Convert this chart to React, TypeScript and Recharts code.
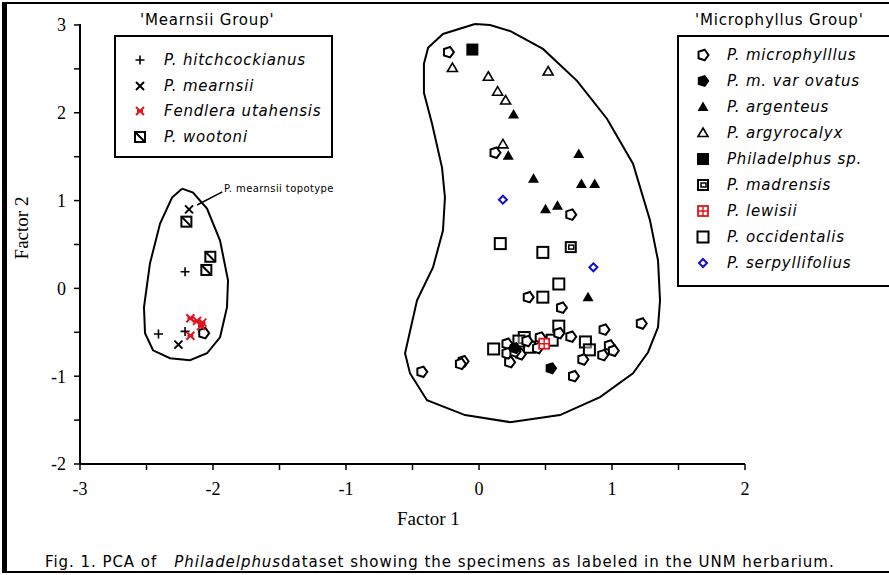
import React from 'react';
import { ScatterChart, Scatter, XAxis, YAxis, ReferenceLine } from 'recharts';

type Pt = [number, number];

const xTicks = [-3, -2.5, -2, -1.5, -1, -0.5, 0, 0.5, 1, 1.5, 2];
const yTicks = [-2, -1.5, -1, -0.5, 0, 0.5, 1, 1.5, 2, 2.5, 3];

// Mearnsii group
const hitchcockianus: Pt[] = [[-2.21, 0.19], [-2.41, -0.52], [-2.21, -0.49], [-2.08, -0.5]];
const mearnsii: Pt[] = [[-2.18, 0.9], [-2.26, -0.64]];
const fendlera: Pt[] = [[-2.17, -0.34], [-2.12, -0.37], [-2.08, -0.39], [-2.09, -0.43], [-2.17, -0.54]];
const wootoni: Pt[] = [[-2.2, 0.76], [-2.02, 0.36], [-2.05, 0.21]];

// Microphyllus group
const microphyllus: Pt[] = [
  [-2.07, -0.51], [-0.23, 2.69], [0.12, 1.545], [0.69, 0.84], [0.37, -0.1], [0.62, -0.22],
  [0.94, -0.47], [1.22, -0.4], [0.69, -0.55], [0.98, -0.65], [1.01, -0.71], [0.93, -0.76],
  [0.78, -0.81], [0.71, -1.0], [-0.12, -0.83], [-0.14, -0.86], [-0.43, -0.95], [0.21, -0.63],
  [0.23, -0.84], [0.21, -0.74], [0.31, -0.75], [0.44, -0.68], [0.46, -0.56], [0.6, -0.51],
  [0.27, -0.72], [0.36, -0.6],
];
const ovatus: Pt[] = [[0.54, -0.91], [0.27, -0.68]];
const argenteus: Pt[] = [
  [0.26, 1.98], [0.22, 1.51], [0.75, 1.53], [0.41, 1.25], [0.77, 1.19], [0.87, 1.19],
  [0.5, 0.9], [0.59, 0.94], [0.82, -0.1],
];
const argyrocalyx: Pt[] = [[-0.2, 2.51], [0.07, 2.41], [0.14, 2.24], [0.2, 2.14], [0.52, 2.47], [0.18, 1.64]];
const philadelphusSp: Pt[] = [[-0.05, 2.72]];
const madrensis: Pt[] = [[0.69, 0.47]];
const lewisii: Pt[] = [[0.49, -0.63]];
const occidentalis: Pt[] = [
  [0.16, 0.51], [0.48, 0.41], [0.6, 0.05], [0.48, -0.1], [0.6, -0.43], [0.11, -0.69],
  [0.8, -0.61], [0.83, -0.7], [0.34, -0.56], [0.3, -0.6], [0.38, -0.67], [0.55, -0.59],
];
const serpyllifolius: Pt[] = [[0.18, 1.01], [0.86, 0.24]];

// group outlines
const mearnsiiOutline: Pt[] = [
  [-2.233, 1.136], [-2.15, 1.091], [-2.045, 0.909], [-1.947, 0.545], [-1.887, 0.091],
  [-1.895, -0.216], [-1.947, -0.557], [-2.045, -0.739], [-2.173, -0.818], [-2.323, -0.795],
  [-2.451, -0.705], [-2.511, -0.511], [-2.519, -0.216], [-2.474, 0.284], [-2.398, 0.739],
  [-2.308, 1.034], [-2.233, 1.136],
];
const microphyllusOutline: Pt[] = [
  [-0.03, 3.011], [0.083, 3.0], [0.233, 2.932], [0.481, 2.727], [0.737, 2.364], [0.962, 1.932],
  [1.158, 1.42], [1.286, 0.773], [1.346, 0.318], [1.361, -0.136], [1.346, -0.443], [1.271, -0.727],
  [1.158, -0.966], [0.91, -1.239], [0.609, -1.443], [0.233, -1.523], [-0.105, -1.443],
  [-0.391, -1.273], [-0.519, -0.966], [-0.556, -0.739], [-0.466, -0.136], [-0.346, 0.239],
  [-0.271, 0.659], [-0.256, 1.034], [-0.278, 1.375], [-0.353, 1.875], [-0.414, 2.227],
  [-0.414, 2.557], [-0.383, 2.739], [-0.271, 2.898], [-0.03, 3.011],
];

const toObj = (a: Pt[]) => a.map(([x, y]) => ({ x, y }));

type Kind =
  | 'plus' | 'cross' | 'redcross' | 'wootoni' | 'pent' | 'pentFill' | 'triFill' | 'triOpen'
  | 'sqFill' | 'madrensis' | 'lewisii' | 'sqOpen' | 'diamond';

const RED = '#e0141c';
const BLUE = '#1010d0';

function pentPts(cx: number, cy: number, r: number) {
  const pts: string[] = [];
  for (let i = 0; i < 5; i++) {
    const a = ((-90 + 18 + 72 * i) * Math.PI) / 180;
    pts.push(`${cx + r * Math.cos(a)},${cy + r * Math.sin(a)}`);
  }
  return pts.join(' ');
}

function Marker({ kind, cx, cy }: { kind: Kind; cx: number; cy: number }) {
  if (cx == null || cy == null || isNaN(cx) || isNaN(cy)) return <g />;
  switch (kind) {
    case 'plus':
      return <path d={`M${cx - 4.5},${cy}H${cx + 4.5}M${cx},${cy - 4.5}V${cy + 4.5}`} stroke="#000" strokeWidth={1.6} />;
    case 'cross':
      return <path d={`M${cx - 4},${cy - 4}L${cx + 4},${cy + 4}M${cx + 4},${cy - 4}L${cx - 4},${cy + 4}`} stroke="#000" strokeWidth={2} />;
    case 'redcross':
      return <path d={`M${cx - 4},${cy - 4}L${cx + 4},${cy + 4}M${cx + 4},${cy - 4}L${cx - 4},${cy + 4}M${cx - 3},${cy}H${cx + 3}`} stroke={RED} strokeWidth={2} />;
    case 'wootoni':
      return (
        <g>
          <rect x={cx - 5} y={cy - 5} width={10} height={10} fill="#fff" stroke="#000" strokeWidth={2} />
          <path d={`M${cx - 5},${cy - 5}L${cx + 5},${cy + 5}`} stroke="#000" strokeWidth={2} />
        </g>
      );
    case 'pent':
      return <polygon points={pentPts(cx, cy, 5.5)} fill="#fff" stroke="#000" strokeWidth={2} />;
    case 'pentFill':
      return <polygon points={pentPts(cx, cy, 5.5)} fill="#000" stroke="#000" strokeWidth={1.5} />;
    case 'triFill':
      return <polygon points={`${cx},${cy - 5.5} ${cx + 5.5},${cy + 4} ${cx - 5.5},${cy + 4}`} fill="#000" />;
    case 'triOpen':
      return <polygon points={`${cx},${cy - 5} ${cx + 5},${cy + 3.5} ${cx - 5},${cy + 3.5}`} fill="#fff" stroke="#000" strokeWidth={1.6} />;
    case 'sqFill':
      return <rect x={cx - 6} y={cy - 6} width={12} height={12} fill="#000" />;
    case 'madrensis':
      return (
        <g>
          <rect x={cx - 5} y={cy - 5} width={10} height={10} fill="#fff" stroke="#000" strokeWidth={2} />
          <rect x={cx - 2} y={cy - 2} width={5} height={4} fill="#fff" stroke="#000" strokeWidth={1.5} />
        </g>
      );
    case 'lewisii':
      return (
        <g>
          <rect x={cx - 5} y={cy - 5} width={10} height={10} fill="#fff" stroke={RED} strokeWidth={1.8} />
          <path d={`M${cx - 5},${cy}H${cx + 5}M${cx},${cy - 5}V${cy + 5}`} stroke={RED} strokeWidth={1.4} />
        </g>
      );
    case 'sqOpen':
      return <rect x={cx - 5.5} y={cy - 5.5} width={11} height={11} fill="#fff" fillOpacity={0.4} stroke="#000" strokeWidth={2} />;
    case 'diamond':
      return <polygon points={`${cx},${cy - 4} ${cx + 4},${cy} ${cx},${cy + 4} ${cx - 4},${cy}`} fill="#fff" stroke={BLUE} strokeWidth={2} />;
  }
  return <g />;
}

const series: { name: string; kind: Kind; data: Pt[] }[] = [
  { name: 'P. hitchcockianus', kind: 'plus', data: hitchcockianus },
  { name: 'P. mearnsii', kind: 'cross', data: mearnsii },
  { name: 'P. wootoni', kind: 'wootoni', data: wootoni },
  { name: 'P. occidentalis', kind: 'sqOpen', data: occidentalis },
  { name: 'P. microphylllus', kind: 'pent', data: microphyllus },
  { name: 'P. m. var ovatus', kind: 'pentFill', data: ovatus },
  { name: 'P. argenteus', kind: 'triFill', data: argenteus },
  { name: 'P. argyrocalyx', kind: 'triOpen', data: argyrocalyx },
  { name: 'Philadelphus sp.', kind: 'sqFill', data: philadelphusSp },
  { name: 'P. madrensis', kind: 'madrensis', data: madrensis },
  { name: 'P. lewisii', kind: 'lewisii', data: lewisii },
  { name: 'P. serpyllifolius', kind: 'diamond', data: serpyllifolius },
  { name: 'Fendlera utahensis', kind: 'redcross', data: fendlera },
];

const leftLegend: { name: string; kind: Kind }[] = [
  { name: 'P. hitchcockianus', kind: 'plus' },
  { name: 'P. mearnsii', kind: 'cross' },
  { name: 'Fendlera utahensis', kind: 'redcross' },
  { name: 'P. wootoni', kind: 'wootoni' },
];
const rightLegend: { name: string; kind: Kind }[] = [
  { name: 'P. microphylllus', kind: 'pent' },
  { name: 'P. m. var ovatus', kind: 'pentFill' },
  { name: 'P. argenteus', kind: 'triFill' },
  { name: 'P. argyrocalyx', kind: 'triOpen' },
  { name: 'Philadelphus sp.', kind: 'sqFill' },
  { name: 'P. madrensis', kind: 'madrensis' },
  { name: 'P. lewisii', kind: 'lewisii' },
  { name: 'P. occidentalis', kind: 'sqOpen' },
  { name: 'P. serpyllifolius', kind: 'diamond' },
];

const SANS = '"DejaVu Sans", sans-serif';
const SERIF = '"Liberation Serif", "Times New Roman", serif';

function LegendBox({ items, left, top, width, height, rowH, firstY }: any) {
  return (
    <div
      style={{
        position: 'absolute', left, top, width, height, border: '2px solid #000',
        boxSizing: 'border-box', background: '#fff',
      }}
    >
      {items.map((it: any, i: number) => (
        <div key={it.name} style={{ position: 'absolute', left: 0, top: firstY + i * rowH - 9, height: 18, width: '100%' }}>
          <svg width={16} height={16} style={{ position: 'absolute', left: 16, top: 1 }}>
            <Marker kind={it.kind} cx={8} cy={8} />
          </svg>
          <span
            style={{
              position: 'absolute', left: 48, top: 0, fontFamily: SANS, fontStyle: 'italic',
              fontSize: 15, letterSpacing: 0.8, lineHeight: '18px', whiteSpace: 'nowrap', color: '#000',
            }}
          >
            {it.name}
          </span>
        </div>
      ))}
    </div>
  );
}

export default function App() {
  const fmt = (v: number) => (Number.isInteger(v) ? String(v) : '');
  return (
    <div style={{ position: 'absolute', left: 0, top: 0, width: 889, height: 575, background: '#fff', overflow: 'hidden' }}>
      <ScatterChart width={889} height={575} margin={{ top: 24, right: 144, bottom: 81, left: 20 }}>
        <XAxis
          type="number" dataKey="x" domain={[-3, 2]} ticks={xTicks} tickFormatter={fmt}
          height={30} axisLine={{ stroke: '#000', strokeWidth: 2 }} tickLine={{ stroke: '#000', strokeWidth: 1.5 }}
          tickSize={6} tickMargin={12} interval={0}
          tick={{ fill: '#000', fontFamily: SERIF, fontSize: 18 }}
        />
        <YAxis
          type="number" dataKey="y" domain={[-2, 3]} ticks={yTicks} tickFormatter={fmt}
          width={60} axisLine={{ stroke: '#000', strokeWidth: 2 }} tickLine={{ stroke: '#000', strokeWidth: 1.5 }}
          tickSize={6} tickMargin={8} interval={0}
          tick={{ fill: '#000', fontFamily: SERIF, fontSize: 18 }}
        />
        <Scatter
          data={toObj(mearnsiiOutline)} line={{ stroke: '#000', strokeWidth: 2 }} shape={() => <g />}
          isAnimationActive={false} legendType="none"
        />
        <Scatter
          data={toObj(microphyllusOutline)} line={{ stroke: '#000', strokeWidth: 2 }} shape={() => <g />}
          isAnimationActive={false} legendType="none"
        />
        <ReferenceLine
          segment={[{ x: -2.12, y: 0.95 }, { x: -1.93, y: 1.1 }]}
          stroke="#000" strokeWidth={1.5} ifOverflow="visible"
        />
        {series.map((s) => (
          <Scatter
            key={s.name}
            name={s.name}
            data={toObj(s.data)}
            isAnimationActive={false}
            shape={(p: any) => <Marker kind={s.kind} cx={p.cx} cy={p.cy} />}
          />
        ))}
      </ScatterChart>

      {/* annotation */}
      <div style={{ position: 'absolute', left: 224, top: 183, fontFamily: SANS, fontSize: 10, letterSpacing: 0.4, whiteSpace: 'nowrap' }}>
        P. mearnsii topotype
      </div>

      {/* legends */}
      <div style={{ position: 'absolute', left: 140, top: 11, fontFamily: SANS, fontSize: 15, letterSpacing: 0.8, whiteSpace: 'nowrap' }}>
        'Mearnsii Group'
      </div>
      <LegendBox items={leftLegend} left={114} top={35} width={219} height={123} rowH={25.5} firstY={23} />

      <div style={{ position: 'absolute', left: 695, top: 11, fontFamily: SANS, fontSize: 15, letterSpacing: 0.8, whiteSpace: 'nowrap' }}>
        'Microphyllus Group'
      </div>
      <LegendBox items={rightLegend} left={677} top={35} width={216} height={252} rowH={26} firstY={18} />

      {/* axis titles */}
      <div style={{ position: 'absolute', left: 397, top: 508, fontFamily: SERIF, fontSize: 19, whiteSpace: 'nowrap' }}>
        Factor 1
      </div>
      <div
        style={{
          position: 'absolute', left: 22, top: 228, fontFamily: SERIF, fontSize: 19, whiteSpace: 'nowrap',
          transform: 'translate(-50%, -50%) rotate(-90deg)',
        }}
      >
        Factor 2
      </div>

      {/* caption */}
      <div style={{ position: 'absolute', left: 45, top: 553, fontFamily: SANS, fontSize: 15, letterSpacing: 0.95, whiteSpace: 'pre' }}>
        {'Fig. 1. PCA of   '}
        <i>Philadelphus</i>
        {'dataset showing the specimens as labeled in the UNM herbarium.'}
      </div>

      {/* frame */}
      <div style={{ position: 'absolute', left: 2, top: 2, width: 5, height: 571, background: '#000' }} />
      <div style={{ position: 'absolute', left: 2, top: 2, width: 887, height: 2, background: '#000' }} />
      <div style={{ position: 'absolute', left: 2, top: 571, width: 887, height: 2, background: '#000' }} />
    </div>
  );
}
